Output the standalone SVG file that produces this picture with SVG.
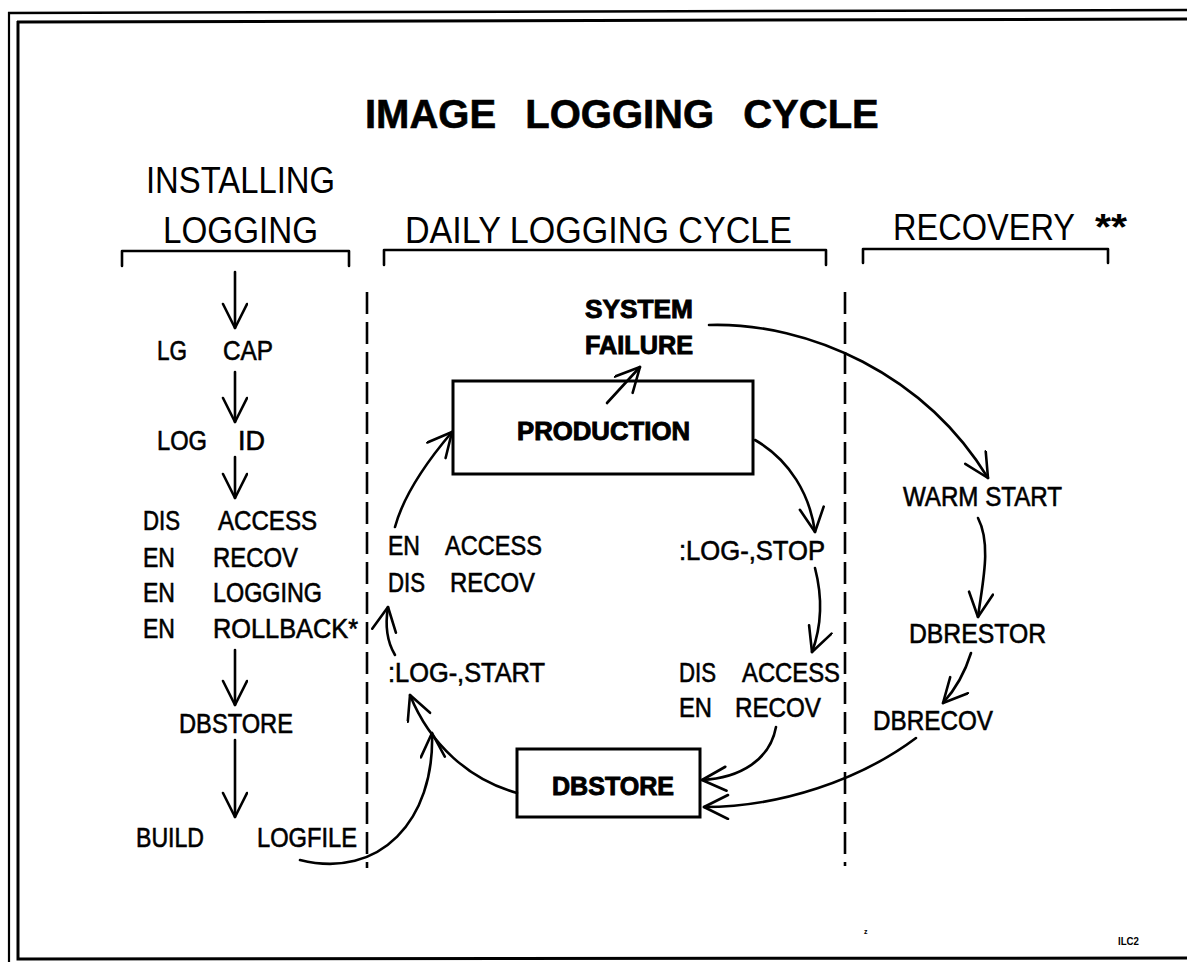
<svg xmlns="http://www.w3.org/2000/svg" width="1187" height="962" viewBox="0 0 1187 962">
<style>
.t{font-family:"Liberation Sans",Arial,sans-serif;font-size:27px;fill:#000;stroke:#000;stroke-width:0.6px}
.h{font-family:"Liberation Sans",Arial,sans-serif;font-size:36px;fill:#000}
.b{font-family:"Liberation Sans",Arial,sans-serif;font-size:25px;font-weight:bold;fill:#000;stroke:#000;stroke-width:0.9px}
.ln{fill:none;stroke:#000;stroke-width:2.6;stroke-linecap:round;stroke-linejoin:round}
.box{fill:none;stroke:#000;stroke-width:3}
.dash{fill:none;stroke:#000;stroke-width:2.6;stroke-dasharray:22 8}
.fr{fill:none;stroke:#000}
</style>
<defs>
<marker id="ah" viewBox="0 0 30 30" markerWidth="30" markerHeight="30" refX="26" refY="13" orient="auto" markerUnits="userSpaceOnUse">
<path d="M2,1 L26,13 L2,25" fill="none" stroke="#000" stroke-width="2.6" stroke-linecap="round" stroke-linejoin="round"/>
</marker>
</defs>
<rect width="1187" height="962" fill="#fff"/>
<g id="frame">
<path class="fr" stroke-width="2.5" d="M8,13 L1187,10"/>
<path class="fr" stroke-width="3" d="M17,22 L1187,19"/>
<path class="fr" stroke-width="2.2" d="M9,12 L9,962"/>
<path class="fr" stroke-width="3" d="M18,21 L18,959 L1187,958"/>
</g>
<g id="title">
<text x="365" y="128" font-family="'Liberation Sans',Arial,sans-serif" font-size="40" font-weight="bold" word-spacing="18" stroke="#000" stroke-width="0.6">IMAGE LOGGING CYCLE</text>
</g>
<g id="headers">
<text class="h" x="146" y="193" textLength="189" lengthAdjust="spacingAndGlyphs">INSTALLING</text>
<text class="h" x="163" y="243" textLength="155" lengthAdjust="spacingAndGlyphs">LOGGING</text>
<text class="h" x="405" y="243" textLength="387" lengthAdjust="spacingAndGlyphs">DAILY LOGGING CYCLE</text>
<text class="h" x="893" y="240"><tspan textLength="182" lengthAdjust="spacingAndGlyphs">RECOVERY</tspan><tspan x="1095" font-weight="bold" textLength="32" lengthAdjust="spacingAndGlyphs">**</tspan></text>
<path class="ln" d="M122,266 V251 H349 V266"/>
<path class="ln" d="M384,265 V250 H826 V265"/>
<path class="ln" d="M863,263 V249 H1108 V263"/>
</g>
<g id="dividers">
<path class="dash" d="M367,292 V868"/>
<path class="dash" d="M845,292 V866"/>
</g>
<g id="connectors">
<path class="ln" marker-end="url(#ah)" d="M235,272 V328"/>
<path class="ln" marker-end="url(#ah)" d="M235,372 V422"/>
<path class="ln" marker-end="url(#ah)" d="M235,457 V498"/>
<path class="ln" marker-end="url(#ah)" d="M235,650 V705"/>
<path class="ln" marker-end="url(#ah)" d="M235,740 V817"/>
<path class="ln" marker-end="url(#ah)" d="M300,860 C380,880 435,820 432,733"/>
<path class="ln" marker-end="url(#ah)" d="M517,793 C470,780 430,745 410,695"/>
<path class="ln" marker-end="url(#ah)" d="M395,655 C386,640 385,625 388,607"/>
<path class="ln" marker-end="url(#ah)" d="M395,527 C405,490 435,452 452,432"/>
<path class="ln" marker-end="url(#ah)" d="M607,403 L640,367"/>
<path class="ln" marker-end="url(#ah)" d="M709,325 C810,322 925,375 988,478"/>
<path class="ln" marker-end="url(#ah)" d="M755,440 C790,460 810,495 815,532"/>
<path class="ln" marker-end="url(#ah)" d="M815,568 C822,595 822,625 812,652"/>
<path class="ln" marker-end="url(#ah)" d="M776,727 C770,760 740,778 702,780"/>
<path class="ln" marker-end="url(#ah)" d="M916,738 C860,780 780,807 704,807"/>
<path class="ln" marker-end="url(#ah)" d="M978,518 C992,545 982,585 978,617"/>
<path class="ln" marker-end="url(#ah)" d="M971,653 Q962,682 943,703"/>
</g>
<g id="lg-cap"><text class="t" x="157" y="360"><tspan textLength="30" lengthAdjust="spacingAndGlyphs">LG</tspan><tspan x="223" textLength="50" lengthAdjust="spacingAndGlyphs">CAP</tspan></text></g>
<g id="log-id"><text class="t" x="157" y="450"><tspan textLength="50" lengthAdjust="spacingAndGlyphs">LOG</tspan><tspan x="238" textLength="27" lengthAdjust="spacingAndGlyphs">ID</tspan></text></g>
<g id="install-flags">
<text class="t" x="143" y="530"><tspan textLength="37" lengthAdjust="spacingAndGlyphs">DIS</tspan><tspan x="218" textLength="99" lengthAdjust="spacingAndGlyphs">ACCESS</tspan></text>
<text class="t" x="143" y="567"><tspan textLength="32" lengthAdjust="spacingAndGlyphs">EN</tspan><tspan x="213" textLength="85" lengthAdjust="spacingAndGlyphs">RECOV</tspan></text>
<text class="t" x="143" y="602"><tspan textLength="32" lengthAdjust="spacingAndGlyphs">EN</tspan><tspan x="213" textLength="109" lengthAdjust="spacingAndGlyphs">LOGGING</tspan></text>
<text class="t" x="143" y="638"><tspan textLength="32" lengthAdjust="spacingAndGlyphs">EN</tspan><tspan x="213" textLength="145" lengthAdjust="spacingAndGlyphs">ROLLBACK*</tspan></text>
</g>
<g id="dbstore-install"><text class="t" x="179" y="733" textLength="114" lengthAdjust="spacingAndGlyphs">DBSTORE</text></g>
<g id="build-logfile"><text class="t" x="136" y="847"><tspan textLength="68" lengthAdjust="spacingAndGlyphs">BUILD</tspan><tspan x="257" textLength="100" lengthAdjust="spacingAndGlyphs">LOGFILE</tspan></text></g>
<g id="system-failure">
<text class="b" x="585" y="318" textLength="108" lengthAdjust="spacingAndGlyphs">SYSTEM</text>
<text class="b" x="585" y="354" textLength="108" lengthAdjust="spacingAndGlyphs">FAILURE</text>
</g>
<g id="production">
<rect class="box" x="453" y="381" width="300" height="93"/>
<text class="b" x="517" y="440" textLength="173" lengthAdjust="spacingAndGlyphs">PRODUCTION</text>
</g>
<g id="en-access">
<text class="t" x="388" y="555"><tspan textLength="32" lengthAdjust="spacingAndGlyphs">EN</tspan><tspan x="445" textLength="97" lengthAdjust="spacingAndGlyphs">ACCESS</tspan></text>
<text class="t" x="388" y="592"><tspan textLength="37" lengthAdjust="spacingAndGlyphs">DIS</tspan><tspan x="450" textLength="85" lengthAdjust="spacingAndGlyphs">RECOV</tspan></text>
</g>
<g id="log-start"><text class="t" x="388" y="682" textLength="157" lengthAdjust="spacingAndGlyphs">:LOG-,START</text></g>
<g id="log-stop"><text class="t" x="679" y="560" textLength="146" lengthAdjust="spacingAndGlyphs">:LOG-,STOP</text></g>
<g id="dis-access">
<text class="t" x="679" y="682"><tspan textLength="37" lengthAdjust="spacingAndGlyphs">DIS</tspan><tspan x="742" textLength="98" lengthAdjust="spacingAndGlyphs">ACCESS</tspan></text>
<text class="t" x="679" y="717"><tspan textLength="33" lengthAdjust="spacingAndGlyphs">EN</tspan><tspan x="735" textLength="86" lengthAdjust="spacingAndGlyphs">RECOV</tspan></text>
</g>
<g id="dbstore">
<rect class="box" x="517" y="749" width="183" height="68"/>
<text class="b" x="552" y="795" textLength="122" lengthAdjust="spacingAndGlyphs">DBSTORE</text>
</g>
<g id="warm-start"><text class="t" x="903" y="506" textLength="159" lengthAdjust="spacingAndGlyphs">WARM START</text></g>
<g id="dbrestor"><text class="t" x="909" y="643" textLength="137" lengthAdjust="spacingAndGlyphs">DBRESTOR</text></g>
<g id="dbrecov"><text class="t" x="873" y="730" textLength="120" lengthAdjust="spacingAndGlyphs">DBRECOV</text></g>
<g id="marks">
<text x="864" y="934" font-family="'Liberation Sans',Arial,sans-serif" font-size="7" font-weight="bold">z</text>
<text x="1118" y="945" font-family="'Liberation Sans',Arial,sans-serif" font-size="10" font-weight="bold" textLength="21" lengthAdjust="spacingAndGlyphs">ILC2</text>
</g>
</svg>
